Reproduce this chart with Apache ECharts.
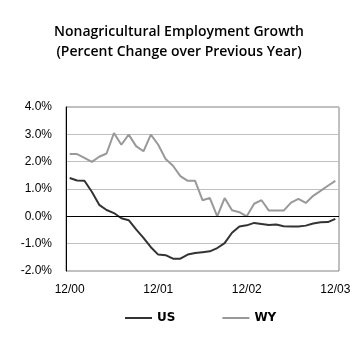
<!DOCTYPE html>
<html>
<head>
<meta charset="utf-8">
<script src="https://cdn.jsdelivr.net/npm/echarts@6/dist/echarts.min.js"></script>
<style>
	html, body { margin: 0; padding: 0; background: #fff; }
	#chart { width: 358px; height: 351px; }
</style>
</head>
<body>
<div id="chart"></div>
<script>
// months 12/00 .. 12/03
var months = [
	"12/00", "1/01", "2/01", "3/01", "4/01", "5/01", "6/01", "7/01", "8/01", "9/01", "10/01", "11/01",
	"12/01", "1/02", "2/02", "3/02", "4/02", "5/02", "6/02", "7/02", "8/02", "9/02", "10/02", "11/02",
	"12/02", "1/03", "2/03", "3/03", "4/03", "5/03", "6/03", "7/03", "8/03", "9/03", "10/03", "11/03",
	"12/03"
];
var tickLabels = ["12/00", "12/01", "12/02", "12/03"];

var usValues = [
	1.40, 1.31, 1.30, 0.90, 0.42, 0.23, 0.12, -0.07, -0.14, -0.48, -0.79, -1.13,
	-1.40, -1.42, -1.55, -1.55, -1.40, -1.34, -1.31, -1.28, -1.16, -0.98, -0.60, -0.37,
	-0.33, -0.24, -0.28, -0.32, -0.30, -0.36, -0.37, -0.37, -0.34, -0.26, -0.22, -0.21,
	-0.09
];
var wyValues = [
	2.28, 2.28, 2.14, 1.99, 2.18, 2.30, 3.05, 2.62, 2.99, 2.57, 2.38, 2.99,
	2.62, 2.10, 1.85, 1.47, 1.30, 1.30, 0.59, 0.67, 0.00, 0.67, 0.22, 0.15,
	0.00, 0.46, 0.59, 0.21, 0.21, 0.21, 0.50, 0.64, 0.49, 0.75, 0.93, 1.12,
	1.30
];

var labelFont = 'Liberation Sans';
var chart = echarts.init(document.getElementById('chart'));

chart.setOption({
	animation: false,
	title: {
		text: 'Nonagricultural Employment Growth\n(Percent Change over Previous Year)',
		left: 'center',
		top: 17,
		textStyle: {
			fontFamily: 'Open Sans',
			fontSize: 14,
			fontWeight: 600,
			color: '#000',
			lineHeight: 20
		}
	},
	grid: {
		left: 66,
		right: 19,
		top: 107,
		bottom: 80,
		show: true,
		borderColor: '#808080',
		borderWidth: 1
	},
	legend: {
		top: 307,
		left: 120,
		icon: 'rect',
		itemWidth: 27,
		itemHeight: 2,
		itemGap: 47,
		textStyle: { fontFamily: 'DejaVu Sans', fontSize: 12, fontWeight: 'bold', color: '#000' },
		data: ['US', 'WY']
	},
	xAxis: {
		type: 'category',
		data: months,
		boundaryGap: true,
		axisLine: { show: false },
		axisTick: { show: false },
		axisLabel: {
			interval: 0,
			margin: 13,
			fontFamily: labelFont,
			fontSize: 12,
			color: '#000',
			formatter: function(v) { return tickLabels.indexOf(v) >= 0 ? v : ''; }
		},
		splitLine: { show: false }
	},
	yAxis: {
		type: 'value',
		min: -2,
		max: 4,
		interval: 1,
		axisLine: { show: true, lineStyle: { color: '#000', width: 1 } },
		axisTick: { show: false },
		axisLabel: {
			margin: 14,
			fontFamily: labelFont,
			fontSize: 12,
			color: '#000',
			formatter: function(v) { return v.toFixed(1) + '%'; }
		},
		splitLine: { show: true, lineStyle: { color: '#c0c0c0', width: 1 } }
	},
	series: [
		{
			name: 'US',
			type: 'line',
			data: usValues,
			symbol: 'none',
			itemStyle: { color: '#333333' },
			lineStyle: { color: '#333333', width: 2 },
			markLine: {
				silent: true,
				symbol: 'none',
				label: { show: false },
				lineStyle: { color: '#000', type: 'solid', width: 1 },
				data: [{ yAxis: 0 }]
			},
			z: 3
		},
		{
			name: 'WY',
			type: 'line',
			data: wyValues,
			symbol: 'none',
			itemStyle: { color: '#999999' },
			lineStyle: { color: '#999999', width: 2 },
			z: 2
		}
	]
});
</script>
</body>
</html>
